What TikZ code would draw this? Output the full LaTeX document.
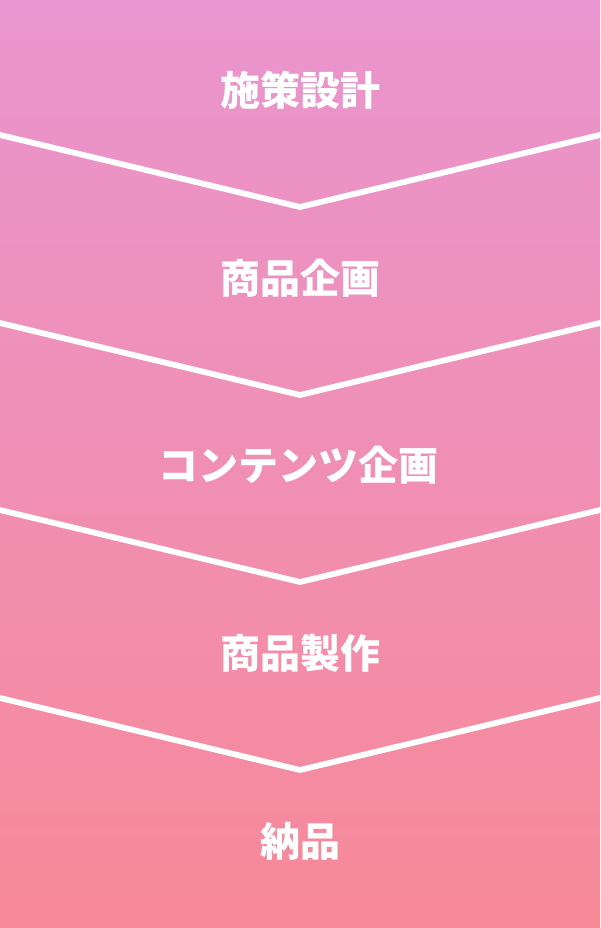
\documentclass[tikz,border=0pt]{standalone}
\usepackage{fontspec}
\newfontfamily\cjk{Noto Sans CJK JP}
\definecolor{topc}{RGB}{233,149,207}
\definecolor{botc}{RGB}{247,137,152}
\begin{document}
\begin{tikzpicture}[x=1pt,y=1pt,
  chev/.style={draw=white,line width=5.8pt,line join=miter},
  steplabel/.style={text=white,font=\cjk\bfseries\fontsize{40}{40}\selectfont,inner sep=0pt}]
\useasboundingbox (0,0) rectangle (600,928);
\shade[top color=topc,bottom color=botc] (0,0) rectangle (600,928);
% chevrons
\foreach \e/\n in {135/1,323/2,510/3,698/4}{
  \coordinate (l\n) at (-5,{928-\e+1.2});
  \coordinate (a\n) at (300,{928-\e-72});
  \coordinate (r\n) at (605,{928-\e+1.2});
  \draw[chev] (l\n) -- (a\n) -- (r\n);
}
\node[steplabel] (s1) at (300,{928-90}) {施策設計};
\node[steplabel] (s2) at (300,{928-278}) {商品企画};
\node[steplabel] (s3) at (298,{928-465}) {コンテンツ企画};
\node[steplabel] (s4) at (300,{928-653}) {商品製作};
\node[steplabel] (s5) at (300,{928-841}) {納品};
\end{tikzpicture}
\end{document}
